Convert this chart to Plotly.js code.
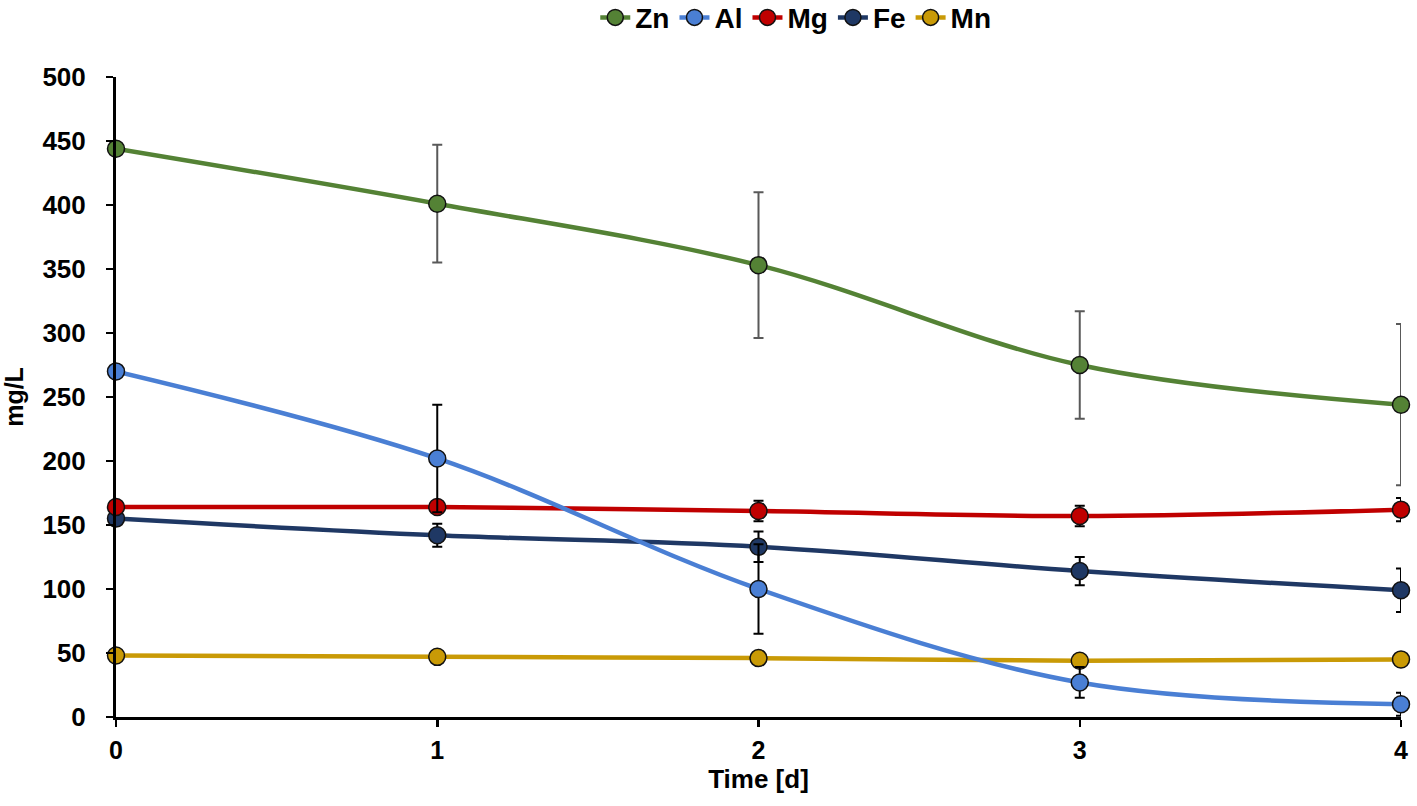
<!DOCTYPE html>
<html>
<head>
<meta charset="utf-8">
<script src="https://cdn.plot.ly/plotly-3.0.1.min.js"></script>
<style>html,body{margin:0;padding:0;background:#fff;}#chart{width:1417px;height:806px;}</style>
</head>
<body>
<div id="chart"></div>
<script>
const days = [0, 1, 2, 3, 4];
const seriesNames = ["Zn", "Al", "Mg", "Fe", "Mn"];
const zn = [444, 401, 353, 275, 244];
const znErr = [0, 46, 57, 42, 63];
const al = [270, 202, 100, 27, 10];
const alErr = [0, 42, 35, 12, 9];
const mg = [164, 164, 161, 157, 162];
const mgErr = [0, 0, 8, 8, 9];
const fe = [155, 142, 133, 114, 99];
const feErr = [0, 9, 12, 11, 17];
const mn = [48, 47, 46, 44, 45];
const mnErr = [0, 0, 0, 0, 0];
const xTickLabels = ["0", "1", "2", "3", "4"];
const yTickVals = [0, 50, 100, 150, 200, 250, 300, 350, 400, 450, 500];

const colors = ["#548235", "#4A7FD4", "#C00000", "#1F3864", "#C99A06"];
const errColors = ["#595959", "#000000", "#000000", "#000000", "#000000"];
const values = [zn, al, mg, fe, mn];
const errs = [znErr, alErr, mgErr, feErr, mnErr];

const traces = seriesNames.map((name, i) => ({
  x: days,
  y: values[i],
  name: name,
  type: "scatter",
  mode: "lines+markers",
  cliponaxis: false,
  line: {color: colors[i], width: 4.5, shape: "spline", smoothing: 1},
  marker: {color: colors[i], size: 17, line: {color: "#111111", width: 1.5}},
  error_y: {type: "data", array: errs[i], visible: true, color: errColors[i], thickness: 2, width: 5}
}));
const ordered = [traces[4], traces[3], traces[2], traces[1], traces[0]];

const layout = {
  width: 1417,
  height: 806,
  margin: {l: 116, r: 16, t: 77, b: 89},
  paper_bgcolor: "#ffffff",
  plot_bgcolor: "#ffffff",
  font: {family: "Liberation Sans, Arial, sans-serif", color: "#000000"},
  showlegend: true,
  legend: {
    orientation: "h",
    x: 0.529, xanchor: "center",
    y: 0.978, yref: "container", yanchor: "middle",
    traceorder: "reversed",
    font: {size: 28, family: "Liberation Sans, Arial, sans-serif", weight: "bold"},
    itemwidth: 30
  },
  xaxis: {
    range: [0, 4],
    tickvals: days,
    ticktext: xTickLabels,
    showgrid: false,
    zeroline: false,
    showline: true,
    linecolor: "#000000",
    linewidth: 3,
    ticks: "outside",
    ticklen: 7,
    tickwidth: 2.5,
    tickcolor: "#000000",
    tickfont: {size: 25, weight: "bold"},
    ticklabelstandoff: 2,
    title: {text: "<b>Time [d]</b>", font: {size: 26}, standoff: 6}
  },
  yaxis: {
    range: [0, 500],
    tickvals: yTickVals,
    showgrid: false,
    zeroline: false,
    showline: true,
    linecolor: "#000000",
    linewidth: 3,
    ticks: "outside",
    ticklen: 7,
    tickwidth: 2.5,
    tickcolor: "#000000",
    tickfont: {size: 26, weight: "bold"},
    ticklabelstandoff: 15,
    title: {text: "<b>mg/L</b>", font: {size: 25}, standoff: 12}
  }
};

Plotly.newPlot("chart", ordered, layout, {displayModeBar: false, staticPlot: true});
</script>
</body>
</html>
